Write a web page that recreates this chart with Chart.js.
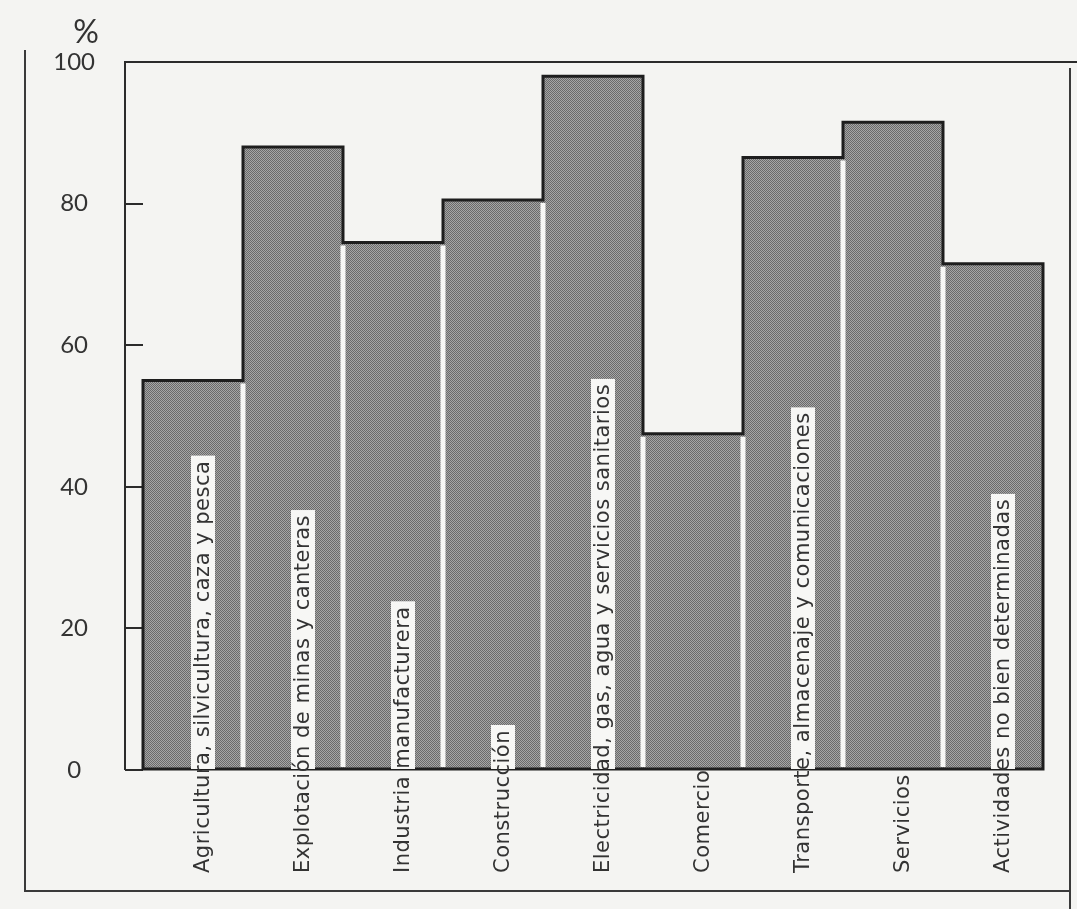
<!DOCTYPE html>
<html>
<head>
<meta charset="utf-8">
<script src="https://cdn.jsdelivr.net/npm/chart.js@4.4.1/dist/chart.umd.min.js"></script>
<style>
  html, body { margin: 0; padding: 0; background: #f4f4f2; }
  canvas { display: block; }
</style>
</head>
<body>
<canvas id="myChart" width="1077" height="909"></canvas>
<script>
// sectores de actividad
const sectores = [
    'Agricultura, silvicultura, caza y pesca',
    'Explotación de minas y canteras',
    'Industria manufacturera',
    'Construcción',
    'Electricidad, gas, agua y servicios sanitarios',
    'Comercio',
    'Transporte, almacenaje y comunicaciones',
    'Servicios',
    'Actividades no bien determinadas'
];
// porcentaje
const porcentajes = [55, 88, 74.5, 80.5, 98, 47.5, 86.5, 91.5, 71.5];
const marcasY = [0, 20, 40, 60, 80, 100];
const unidad = '%';

const fondo = '#f4f4f2';
const tinta = '#2b2b2b';
const TICK = 18;

// trama de puntos para imitar el semitono
function trama() {
    const c = document.createElement('canvas');
    c.width = 2; c.height = 2;
    const g = c.getContext('2d');
    g.fillStyle = '#a6a6a6';
    g.fillRect(0, 0, 2, 2);
    g.fillStyle = '#6a6a6a';
    g.fillRect(0, 0, 1, 1);
    g.fillRect(1, 1, 1, 1);
    return g.createPattern(c, 'repeat');
}

const dibujo = {
    id: 'dibujo',
    beforeDraw(chart) {
        const ctx = chart.ctx;
        ctx.save();
        ctx.fillStyle = fondo;
        ctx.fillRect(0, 0, chart.width, chart.height);
        // marco exterior
        ctx.strokeStyle = '#3a3a3a';
        ctx.lineWidth = 2;
        ctx.beginPath();
        ctx.moveTo(25, 50);
        ctx.lineTo(25, 891);
        ctx.lineTo(1070, 891);
        ctx.moveTo(1070, 68);
        ctx.lineTo(1070, chart.height);
        ctx.stroke();
        ctx.restore();
    },
    afterDatasetsDraw(chart) {
        const ctx = chart.ctx;
        const area = chart.chartArea;
        const bars = chart.getDatasetMeta(0).data;
        const base = bars[0].base;
        ctx.save();

        // eje y y borde superior
        const ejeX = area.left - TICK;
        ctx.strokeStyle = tinta;
        ctx.lineWidth = 2;
        ctx.beginPath();
        ctx.moveTo(ejeX, base + 1);
        ctx.lineTo(ejeX, area.top);
        ctx.lineTo(chart.width, area.top);
        ctx.stroke();

        // separadores blancos
        ctx.strokeStyle = '#f7f7f5';
        ctx.lineWidth = 5;
        for (let i = 0; i < bars.length - 1; i++) {
            const b = bars[i], n = bars[i + 1];
            const x = b.x + b.width / 2;
            ctx.beginPath();
            ctx.moveTo(x, Math.max(b.y, n.y) + 3);
            ctx.lineTo(x, base - 2);
            ctx.stroke();
        }

        // contorno escalonado
        ctx.strokeStyle = '#1e1e1e';
        ctx.lineWidth = 3;
        ctx.lineJoin = 'miter';
        ctx.beginPath();
        ctx.moveTo(bars[0].x - bars[0].width / 2, base);
        bars.forEach(b => {
            ctx.lineTo(b.x - b.width / 2, b.y);
            ctx.lineTo(b.x + b.width / 2, b.y);
        });
        const last = bars[bars.length - 1];
        ctx.lineTo(last.x + last.width / 2, base);
        ctx.closePath();
        ctx.stroke();

        // rótulos verticales
        ctx.font = '21px "DejaVu Sans"';
        ctx.letterSpacing = '0.5px';
        ctx.textBaseline = 'middle';
        ctx.textAlign = 'left';
        const inicio = base + 104;
        sectores.forEach((s, i) => {
            const b = bars[i];
            const cx = b.x + 10;
            const w = ctx.measureText(s).width;
            const arriba = inicio - w - 5;
            if (arriba < base - 8) {
                ctx.fillStyle = '#f7f7f5';
                ctx.fillRect(cx - 12, arriba, 24, base - arriba);
            }
            ctx.save();
            ctx.translate(cx, inicio);
            ctx.rotate(-Math.PI / 2);
            ctx.fillStyle = '#333';
            ctx.fillText(s, 0, 1);
            ctx.restore();
        });
        ctx.letterSpacing = '0px';

        // unidad
        ctx.font = '32px Lato';
        ctx.textAlign = 'center';
        ctx.fillStyle = '#333';
        ctx.fillText(unidad, 86, 33);
        ctx.restore();
    }
};

const ctx = document.getElementById('myChart');

const myChart = new Chart(ctx, {
    type: 'bar',
    data: {
        labels: sectores,
        datasets: [{
            data: porcentajes,
            backgroundColor: trama(),
            borderWidth: 0,
            barPercentage: 1,
            categoryPercentage: 1
        }]
    },
    options: {
        responsive: false,
        devicePixelRatio: 1,
        animation: false,
        layout: {
            padding: { top: 62, right: 34, bottom: 139, left: 0 }
        },
        plugins: {
            legend: { display: false },
            tooltip: { enabled: false }
        },
        scales: {
            x: { display: false },
            y: {
                min: 0,
                max: 100,
                afterFit: s => { s.width = 143; },
                afterBuildTicks: s => { s.ticks = marcasY.map(v => ({ value: v })); },
                border: { display: false },
                grid: {
                    drawOnChartArea: false,
                    tickLength: TICK,
                    color: tinta,
                    lineWidth: 2
                },
                ticks: {
                    crossAlign: 'center',
                    padding: 30,
                    color: '#333',
                    font: { family: 'Lato', size: 24 }
                }
            }
        }
    },
    plugins: [dibujo]
});
</script>
</body>
</html>
